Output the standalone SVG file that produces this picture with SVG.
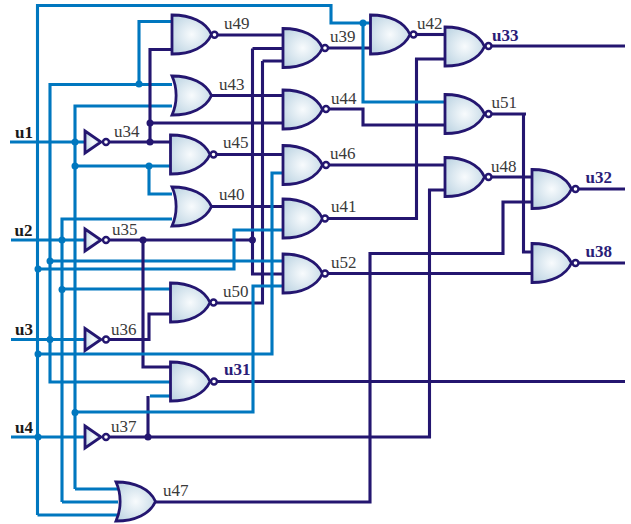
<svg xmlns="http://www.w3.org/2000/svg" xmlns:xlink="http://www.w3.org/1999/xlink" width="631" height="524" viewBox="0 0 631 524">
<style>
.w{fill:none;stroke-width:3.1;stroke-linejoin:miter}
.n{stroke:#241670}
.b{stroke:#0077bf}
.dn{fill:#241670}
.db{fill:#0077bf}
.g{fill:url(#gf);stroke:#241670;stroke-width:2.8;stroke-linejoin:miter}
.bub{fill:#fff;stroke:#241670;stroke-width:2.4}
text{font-family:"Liberation Serif","Times New Roman",serif;font-size:17px;fill:#3a3a3a}
.o{font-weight:bold;fill:#2b1d78}
.i{font-weight:bold;fill:#1a1a1a}
</style>
<defs>
<radialGradient id="gf" cx="0.5" cy="0.5" r="0.6">
<stop offset="0" stop-color="#f8fbfd"/>
<stop offset="1" stop-color="#c0d6e4"/>
</radialGradient>
<path id="and" d="M0 0C19 0 34 7 39.500 19.500C34 32 19 39 0 39Z"/>
<path id="or" d="M0 0C19 0 34 7 39.500 19.500C34 32 19 39 0 39C5.500 27 5.500 12 0 0Z"/>
<path id="not" d="M0 0L16 11L0 22Z"/>
</defs>
<g id="connectors">
<g class="w n">
<path d="M214 35H283M252.500 48.500H283M262.500 61H283"/>
<path d="M252.500 48.500V274H283"/>
<path d="M262.500 61V303H214"/>
<path d="M211 95.500H283"/>
<path d="M214 154.500H283"/>
<path d="M211 206.500H283"/>
<path d="M106 240H252.500"/>
<path d="M150 123H283"/>
<path d="M325 48H370"/>
<path d="M413 34.500H445"/>
<path d="M326 109H363V125H445"/>
<path d="M326 165H445"/>
<path d="M325 218.500H416.500V59H445"/>
<path d="M325 273.500H532"/>
<path d="M488 46H625"/>
<path d="M488 114H526M523.500 114V252H532"/>
<path d="M488 177H532"/>
<path d="M575 189H625"/>
<path d="M575 263H625"/>
<path d="M214 381.500H625"/>
<path d="M155 502H370V253.500H503V202H532"/>
<path d="M106 437H429.500V190H445"/>
<path d="M143 300V367H171"/>
<path d="M148 437V396"/>
</g>
<g class="w b">
<path d="M37.500 515V5.500H331V23H370"/>
<path d="M363 23V102H445"/>
<path d="M37.500 515H120"/>
<path d="M50 83V382H171"/>
<path d="M50 84.500H172M139 84.500V21.500H172"/>
<path d="M62 502V219H172"/>
<path d="M62 502H118"/>
<path d="M75 489V106H172"/>
<path d="M75 489H118"/>
<path d="M10 142H85"/>
<path d="M11 240H85"/>
<path d="M11 339.500H85"/>
<path d="M11 437H85"/>
<path d="M75 166H170M149 166V194H172"/>
<path d="M50 261H283"/>
<path d="M37.500 269H234V230H283"/>
<path d="M62 289H170"/>
<path d="M37.500 354H272V173H283"/>
<path d="M75 412H253V286H283"/>
<path d="M150 396H171"/>
</g>
<g class="w n">
<path d="M106 142H170"/>
<path d="M150 142V49.500H172"/>
<path d="M143 240V300"/>
<path d="M106 339.500H149V314H170"/>
</g>
<g class="dn">
<circle cx="150" cy="123" r="3.500"/><circle cx="150" cy="142" r="3.500"/><circle cx="143" cy="240" r="3.500"/><circle cx="252.500" cy="240" r="3.500"/><circle cx="148" cy="437" r="3.500"/>
</g>
<g class="db">
<circle cx="139" cy="84" r="3.500"/><circle cx="75" cy="142" r="3.500"/><circle cx="75" cy="166" r="3.500"/><circle cx="149" cy="166" r="3.500"/><circle cx="62" cy="240" r="3.500"/><circle cx="50" cy="261" r="3.500"/><circle cx="38" cy="269" r="3.500"/><circle cx="62" cy="289.500" r="3.500"/><circle cx="50" cy="339.500" r="3.500"/><circle cx="38" cy="354" r="3.500"/><circle cx="75" cy="412.500" r="3.500"/><circle cx="38" cy="437" r="3.500"/><circle cx="363" cy="23" r="3.500"/>
</g>
</g>
<g id="u1"><text class="i" x="15" y="138">u1</text></g>
<g id="u2"><text class="i" x="14.500" y="236">u2</text></g>
<g id="u3"><text class="i" x="15" y="335">u3</text></g>
<g id="u4"><text class="i" x="15" y="433">u4</text></g>
<g id="n34"><use href="#not" x="85" y="131" class="g"/><circle class="bub" cx="106" cy="142" r="3"/><text x="114" y="137">u34</text></g>
<g id="n35"><use href="#not" x="85" y="229" class="g"/><circle class="bub" cx="106" cy="240" r="3"/><text x="112" y="235">u35</text></g>
<g id="n36"><use href="#not" x="85" y="328.500" class="g"/><circle class="bub" cx="106" cy="339.500" r="3"/><text x="111" y="335">u36</text></g>
<g id="n37"><use href="#not" x="85" y="426" class="g"/><circle class="bub" cx="106" cy="437" r="3"/><text x="111" y="432">u37</text></g>
<g id="n49"><use href="#and" x="172" y="15" class="g"/><circle class="bub" cx="214.500" cy="34.700" r="3"/><text x="224" y="29">u49</text></g>
<g id="n43"><use href="#or" x="172" y="76" class="g"/><text x="219" y="90">u43</text></g>
<g id="n45"><use href="#and" x="170.500" y="135" class="g"/><circle class="bub" cx="213.500" cy="154.500" r="3"/><text x="223" y="148">u45</text></g>
<g id="n40"><use href="#or" x="172" y="187" class="g"/><text x="219" y="200">u40</text></g>
<g id="n50"><use href="#and" x="170.500" y="283" class="g"/><circle class="bub" cx="213.500" cy="302.500" r="3"/><text x="223" y="297">u50</text></g>
<g id="n31"><use href="#and" x="170.500" y="362" class="g"/><circle class="bub" cx="214" cy="381.500" r="3"/><text class="o" x="224" y="375">u31</text></g>
<g id="n47"><use href="#or" x="116" y="482" class="g"/><text x="163" y="496">u47</text></g>
<g id="n39"><use href="#and" x="283" y="28.500" class="g"/><circle class="bub" cx="325" cy="48" r="3"/><text x="330" y="42">u39</text></g>
<g id="n44"><use href="#and" x="283" y="90" class="g"/><circle class="bub" cx="326" cy="109" r="3"/><text x="331" y="104">u44</text></g>
<g id="n46"><use href="#and" x="283" y="145.500" class="g"/><circle class="bub" cx="326" cy="165" r="3"/><text x="330" y="159">u46</text></g>
<g id="n41"><use href="#and" x="283" y="199" class="g"/><circle class="bub" cx="325" cy="218.500" r="3"/><text x="331" y="212">u41</text></g>
<g id="n52"><use href="#and" x="283" y="254" class="g"/><circle class="bub" cx="325" cy="273.500" r="3"/><text x="331" y="268">u52</text></g>
<g id="n42"><use href="#and" x="370.500" y="15" class="g"/><circle class="bub" cx="413.500" cy="34.500" r="3"/><text x="417" y="29">u42</text></g>
<g id="n33"><use href="#and" x="445" y="27" class="g"/><circle class="bub" cx="488.500" cy="46" r="3"/><text class="o" x="492" y="41">u33</text></g>
<g id="n51"><use href="#and" x="445" y="94.500" class="g"/><circle class="bub" cx="488.500" cy="114" r="3"/><text x="491.500" y="108">u51</text></g>
<g id="n48"><use href="#and" x="445" y="157.500" class="g"/><circle class="bub" cx="488.500" cy="177" r="3"/><text x="491" y="172">u48</text></g>
<g id="n32"><use href="#and" x="532" y="169.500" class="g"/><circle class="bub" cx="575.500" cy="189" r="3"/><text class="o" x="585.500" y="183">u32</text></g>
<g id="n38"><use href="#and" x="532" y="243.500" class="g"/><circle class="bub" cx="575.500" cy="263" r="3"/><text class="o" x="585.500" y="257">u38</text></g>
</svg>
